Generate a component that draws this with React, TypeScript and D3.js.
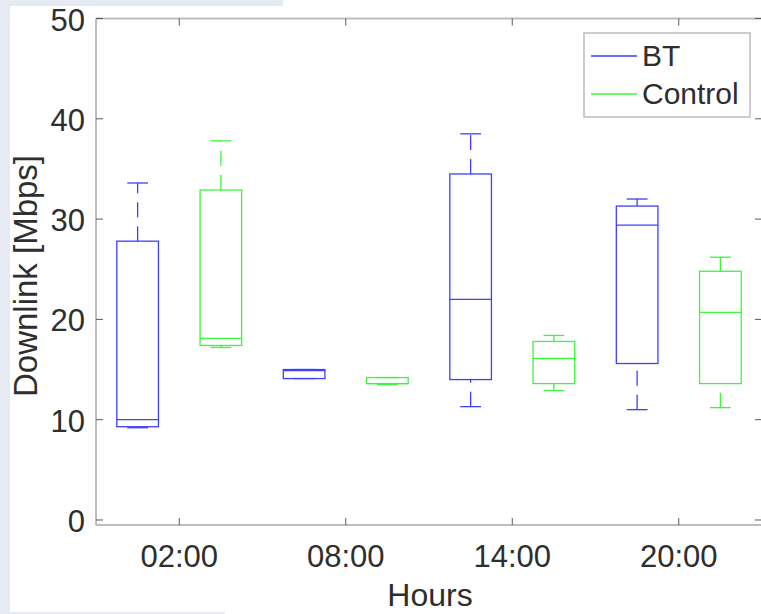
import * as d3 from "d3";
import React from "react";

// hours on the x axis, two series per hour
const hours = ["02:00", "08:00", "14:00", "20:00"];
const series = ["BT", "Control"];

// box stats per hour: [lower whisker, q1, median, q3, upper whisker]
const btStats = [
  [9.2, 9.3, 10.0, 27.8, 33.6],
  [14.1, 14.1, 14.9, 15.0, 15.0],
  [11.3, 14.0, 22.0, 34.5, 38.5],
  [11.0, 15.6, 29.4, 31.3, 32.0],
];
const controlStats = [
  [17.2, 17.4, 18.1, 32.9, 37.8],
  [13.5, 13.6, 13.6, 14.2, 14.2],
  [12.9, 13.6, 16.1, 17.8, 18.4],
  [11.2, 13.6, 20.7, 24.8, 26.2],
];
const yTicks = [0, 10, 20, 30, 40, 50];

const W = 761;
const H = 614;
const left = 96, right = 762, top = 18.5, bottom = 525;
const font = "'Liberation Sans', Arial, Helvetica, sans-serif";
const textColor = "#2e2e2e";
const axisColor = "#bdbdbd";
const tickColor = "#5a5a5a";
const colors = ["#3f3fff", "#3cf63c"];

function Box(props) {
  const { stats, cx, halfW, y, color } = props;
  const [lo, q1, med, q3, hi] = stats;
  const capW = halfW / 2;
  return (
    <g stroke={color} strokeWidth={1.3} fill="none">
      <rect x={cx - halfW} y={y(q3)} width={halfW * 2} height={y(q1) - y(q3)} />
      <line x1={cx - halfW} x2={cx + halfW} y1={y(med)} y2={y(med)} />
      <path d={`M${cx},${y(q3)}L${cx},${y(hi)}`} strokeDasharray="15,9" />
      <path d={`M${cx},${y(lo)}L${cx},${y(q1)}`} strokeDasharray="15,9" />
      <line x1={cx - capW} x2={cx + capW} y1={y(hi)} y2={y(hi)} />
      <line x1={cx - capW} x2={cx + capW} y1={y(lo)} y2={y(lo)} />
    </g>
  );
}

export default function App() {
  const x = d3.scaleLinear().domain([0.5, hours.length + 0.5]).range([left, right]);
  const y = d3.scaleLinear().domain([-0.5, 50]).range([bottom, top]);
  const unit = x(1) - x(0);
  const halfW = unit * 0.125;
  const offset = unit * 0.25;
  const allStats = [btStats, controlStats];

  return (
    <svg width={W} height={H} style={{ position: "absolute", left: 0, top: 0 }}>
      <rect x={0} y={0} width={W} height={H} fill="#ffffff" />
      {/* page background strips around the figure */}
      <rect x={0} y={0} width={283} height={6} fill="#e6eaf2" />
      <rect x={0} y={0} width={10} height={H} fill="#e6eaf2" />
      <rect x={0} y={612} width={225} height={2} fill="#e6eaf2" />

      {/* axes frame */}
      <g stroke={axisColor} strokeWidth={2} fill="none">
        <line x1={left} x2={right} y1={bottom} y2={bottom} />
        <line x1={left} x2={right} y1={top} y2={top} />
        <line x1={left} x2={left} y1={top} y2={bottom} />
        <line x1={right} x2={right} y1={top} y2={bottom} />
      </g>

      {/* y ticks */}
      {yTicks.map((t) => (
        <g key={t}>
          <line x1={left} x2={left + 7} y1={y(t)} y2={y(t)} stroke={tickColor} strokeWidth={1} />
          <line x1={right - 7} x2={right} y1={y(t)} y2={y(t)} stroke={tickColor} strokeWidth={1} />
          <text x={85} y={y(t) + 12} textAnchor="end" fontFamily={font} fontSize={31} fill={textColor}>
            {t}
          </text>
        </g>
      ))}

      {/* x ticks */}
      {hours.map((h, i) => (
        <g key={h}>
          <line x1={x(i + 1)} x2={x(i + 1)} y1={bottom} y2={bottom - 7} stroke={tickColor} strokeWidth={1} />
          <line x1={x(i + 1)} x2={x(i + 1)} y1={top} y2={top + 7} stroke={tickColor} strokeWidth={1} />
          <text x={x(i + 1)} y={567} textAnchor="middle" fontFamily={font} fontSize={31} fill={textColor}>
            {h}
          </text>
        </g>
      ))}

      {/* boxes */}
      {allStats.map((statsList, s) =>
        statsList.map((st, i) => (
          <Box
            key={`${s}-${i}`}
            stats={st}
            cx={x(i + 1) + (s === 0 ? -offset : offset)}
            halfW={halfW}
            y={y}
            color={colors[s]}
          />
        ))
      )}

      {/* axis labels */}
      <text x={430} y={606} textAnchor="middle" fontFamily={font} fontSize={32} fill={textColor}>
        Hours
      </text>
      <text
        transform={`translate(37,${276}) rotate(-90)`}
        textAnchor="middle"
        fontFamily={font}
        fontSize={33}
        fill={textColor}
      >
        Downlink [Mbps]
      </text>

      {/* legend */}
      <rect x={584} y={33} width={166} height={84} fill="#ffffff" stroke="#bdbdbd" strokeWidth={1.5} />
      {series.map((name, i) => (
        <g key={name}>
          <line x1={591} x2={637} y1={56 + i * 38} y2={56 + i * 38} stroke={colors[i]} strokeWidth={1.3} />
          <text x={642} y={66 + i * 38} fontFamily={font} fontSize={30} fill={textColor}>
            {name}
          </text>
        </g>
      ))}
    </svg>
  );
}
